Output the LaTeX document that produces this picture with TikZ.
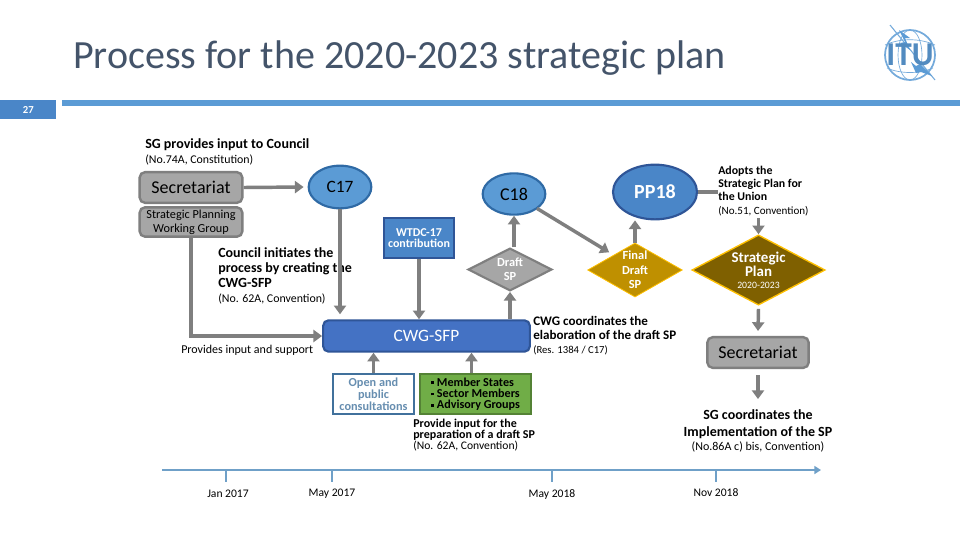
\documentclass[tikz,border=0pt]{standalone}
\usepackage{fontspec}
\setmainfont{Carlito}
\usetikzlibrary{shapes.geometric,arrows.meta,calc}
\definecolor{grayln}{HTML}{7F7F7F}
\definecolor{grayfill}{HTML}{A6A6A6}
\definecolor{bluefill}{HTML}{5B9BD5}
\definecolor{bluedark}{HTML}{2F6AA5}
\definecolor{bluemid}{HTML}{4A86C8}
\definecolor{royal}{HTML}{4472C4}
\definecolor{royaldark}{HTML}{2F5597}
\definecolor{gold}{HTML}{BF9000}
\definecolor{brown}{HTML}{7F6000}
\definecolor{yel}{HTML}{FFC000}
\definecolor{greenf}{HTML}{70AD47}
\definecolor{greend}{HTML}{548235}
\definecolor{titlec}{HTML}{44546A}
\definecolor{axisc}{HTML}{6FA0C8}
\definecolor{openc}{HTML}{41719C}
\newcommand{\sqb}{\rule[1.5pt]{2pt}{2pt}\hspace{2.5pt}}
\tikzset{
  x=0.75pt,y=-0.75pt,
  arr/.style={draw=grayln,line width=2.6pt,-{Triangle[width=9pt,length=6.5pt]}},
  plain/.style={draw=grayln,line width=2.6pt},
  ax/.style={draw=axisc,line width=1.6pt},
  grayrect/.style={draw=grayln,line width=1.8pt,fill=grayfill,rounded corners=4pt,inner sep=0pt,align=center},
  oval/.style={ellipse,draw=bluedark,line width=1.6pt,fill=bluefill,inner sep=0pt,align=center},
  dia/.style={diamond,inner sep=0pt,align=center,aspect=1.6},
  lbl/.style={anchor=north west,inner sep=0pt,align=left,font=\fontsize{10.5pt}{11.3pt}\selectfont\bfseries},
  sm/.style={inner sep=0pt,font=\fontsize{8.9pt}{10pt}\selectfont},
  date/.style={inner sep=0pt,font=\fontsize{8.7pt}{10pt}\selectfont},
}
\begin{document}
\begin{tikzpicture}
\useasboundingbox (0,0) rectangle (960,540);
\fill[white] (0,0) rectangle (960,540);
% title and header
\node[anchor=base west,inner sep=0pt,text=titlec,font=\fontsize{30pt}{32pt}\selectfont] (title) at (73,68) {Process for the 2020-2023 strategic plan};
\fill[bluefill] (62,100) rectangle (960,106);
\node[anchor=north west,fill=bluemid,minimum width=42pt,minimum height=14.25pt,inner sep=0pt,text=white,font=\fontsize{8pt}{9pt}\selectfont\bfseries] (pg) at (0,100) {27};
% logo
\begin{scope}[draw=bluefill!85!white,text=bluefill]
\draw[line width=1.3pt] (910,55) circle (25);
\draw[line width=0.5pt] (910,55) ellipse (12 and 25);
\draw[line width=0.5pt] (885,45) .. controls (900,38) and (920,38) .. (935,45);
\draw[line width=0.5pt] (887,68) .. controls (900,74) and (920,74) .. (933,68);
\draw[line width=0.8pt] (890,25) -- (935,80);
\fill[bluefill] (899,30) -- (905,42) -- (900,43) -- (910,50) -- (905,38) -- (910,38) -- cycle;
\fill[bluefill] (911,62) -- (916,73) -- (921,72) -- (932,76) -- (920,64) -- (916,66) -- cycle;
\node[inner sep=0pt,font=\fontsize{25pt}{25pt}\selectfont\bfseries,text=bluefill!90!black] (itu) at (910,55) {ITU};
\end{scope}
% gray nodes
\node[grayrect,minimum width=77pt,minimum height=23pt,font=\fontsize{13.5pt}{15pt}\selectfont] (sec) at (191,187.5) {Secretariat};
\node[grayrect,minimum width=77pt,minimum height=22pt,font=\fontsize{9.2pt}{10.5pt}\selectfont] (spwg) at (191,222) {Strategic Planning\\Working Group};
\node[grayrect,minimum width=76pt,minimum height=23pt,font=\fontsize{13.5pt}{15pt}\selectfont] (sec2) at (758,352.5) {Secretariat};
% ovals
\node[oval,minimum width=47pt,minimum height=32pt,font=\fontsize{13pt}{15pt}\selectfont] (c17) at (340,187) {C17};
\node[oval,minimum width=47pt,minimum height=31pt,font=\fontsize{13.5pt}{15pt}\selectfont] (c18) at (514,194) {C18};
\node[oval,minimum width=63pt,minimum height=41pt,draw=royaldark,fill=bluemid,text=white,font=\fontsize{15pt}{17pt}\selectfont\bfseries] (pp) at (655,192) {PP18};
% rect nodes
\node[draw=royaldark,line width=1.5pt,fill=bluemid,minimum width=53pt,minimum height=30pt,inner sep=0pt,align=center,text=white,font=\fontsize{9pt}{8.5pt}\selectfont\bfseries,anchor=north] (wtdc) at (419,217) {WTDC-17\\contribution};
\node[draw=royaldark,line width=1.6pt,fill=royal,rounded corners=4pt,minimum width=155pt,minimum height=23.5pt,inner sep=0pt,text=white,font=\fontsize{13pt}{15pt}\selectfont] (cwg) at (426.5,336) {CWG-SFP};
\node[draw=openc,line width=1.6pt,fill=white,minimum width=61pt,minimum height=30.5pt,inner sep=0pt,align=center,text=openc!80!white,font=\fontsize{9.2pt}{9pt}\selectfont\bfseries] (open) at (373.5,394) {Open and\\public\\consultations};
\node[draw=greend,line width=1.8pt,fill=greenf,minimum width=83pt,minimum height=30pt,inner sep=0pt,align=left,font=\fontsize{9.1pt}{8.4pt}\selectfont\bfseries] (grp) at (475.5,394) {\sqb Member States\\\sqb Sector Members\hspace{3pt}\\\sqb Advisory Groups};
% diamonds
\node[dia,draw=grayln,line width=1.6pt,fill=grayfill,minimum width=63pt,minimum height=32pt,text=white,font=\fontsize{9.3pt}{10.5pt}\selectfont\bfseries] (draft) at (510,269.5) {Draft\\SP};
\node[dia,draw=yel,line width=0.6pt,fill=gold,minimum width=71pt,minimum height=40pt,text=white,font=\fontsize{9.3pt}{10.9pt}\selectfont\bfseries] (final) at (635,270) {Final\\Draft\\SP};
\node[dia,draw=yel,line width=1pt,fill=brown,minimum width=100pt,minimum height=49pt,text=white,font=\fontsize{11.2pt}{10.5pt}\selectfont\bfseries] (plan) at (758.5,270) {Strategic\\Plan\\[-1.5pt]{\fontsize{7.3pt}{7.5pt}\selectfont\mdseries 2020-2023}};
% text labels
\node[lbl] (t1) at (145,138) {SG provides input to Council};
\node[sm,anchor=north west] (t1b) at (145,155) {(No.74A, Constitution)};
\node[lbl] (t2) at (218,247) {Council initiates the\\process by creating the\\CWG-SFP};
\node[sm,anchor=north west] (t2b) at (218,294) {(No. 62A, Convention)};
\node[sm,anchor=north west,font=\fontsize{9pt}{10pt}\selectfont] (t3) at (181,345) {Provides input and support};
\node[lbl,font=\fontsize{8.9pt}{9.8pt}\selectfont\bfseries] (t4) at (718,166) {Adopts the\\Strategic Plan for\\the Union};
\node[sm,anchor=north west,font=\fontsize{8.3pt}{9pt}\selectfont] (t4b) at (718,206) {(No.51, Convention)};
\node[lbl,font=\fontsize{9.8pt}{10.5pt}\selectfont\bfseries] (t5) at (533,316) {CWG coordinates the\\elaboration of the draft SP};
\node[sm,anchor=north west,font=\fontsize{8pt}{9pt}\selectfont] (t5b) at (533,345) {(Res. 1384 / C17)};
\node[lbl,font=\fontsize{9pt}{8.4pt}\selectfont\bfseries] (t6) at (413,419) {Provide input for the\\preparation of a draft SP};
\node[sm,anchor=north west,font=\fontsize{8.7pt}{9pt}\selectfont] (t6b) at (413,441) {(No. 62A, Convention)};
\node[inner sep=0pt,align=center,font=\fontsize{10.5pt}{12.6pt}\selectfont\bfseries] (t7) at (758,424) {SG coordinates the\\Implementation of the SP};
\node[sm,font=\fontsize{9pt}{10pt}\selectfont] (t7b) at (758,447) {(No.86A c) bis, Convention)};
% arrows
\draw[arr] (sec.east) -- ($(c17.west)+(-4,0)$);
\draw[arr,shorten >=3.75pt] (c17.south) -- (c17.south |- cwg.north);
\draw[arr] (wtdc.south) -- (wtdc.south |- cwg.north);
\draw[arr] (spwg.south) |- (cwg.west);
\coordinate (dup) at (cwg.north -| draft.south);
\draw[arr] (dup) -- (draft.south);
\draw[arr] (draft.north -| c18.south) -- (c18.south);
\draw[arr] ($(c18.south east)+(0,-1)$) -- ($(final.north west)+(-2,-4)$);
\draw[arr] (final.north) -- (final.north |- pp.south);
\draw[plain] (pp.east) -- (t4.west |- pp.east);
\coordinate (adopt) at (plan.north |- t4b.south);
\draw[arr] ($(adopt)+(0,2)$) -- (plan.north);
\draw[arr] ($(plan.south)+(0,3)$) -- ($(sec2.north)+(0,-5)$);
\draw[arr] ($(sec2.south)+(0,6)$) -- ($(sec2.south)+(0,30)$);
\draw[arr] (open.north) -- (open.north |- cwg.south);
\coordinate (grpup) at ($(grp.north)+(-4,0)$);
\draw[arr] (grpup) -- (grpup |- cwg.south);
% timeline
\coordinate (a0) at (162,470);
\coordinate (a1) at (821,470);
\draw[ax,-{Triangle[width=6pt,length=5pt]}] (a0) -- (a1);
\node[date] (d1) at (228,494) {Jan 2017};
\node[date] (d2) at (332,494) {May 2017};
\node[date] (d3) at (552,494) {May 2018};
\node[date] (d4) at (716,493) {Nov 2018};
\foreach \x in {226,332,552,716}{\draw[ax] (\x,470) -- (\x,482);}
\end{tikzpicture}
\end{document}
